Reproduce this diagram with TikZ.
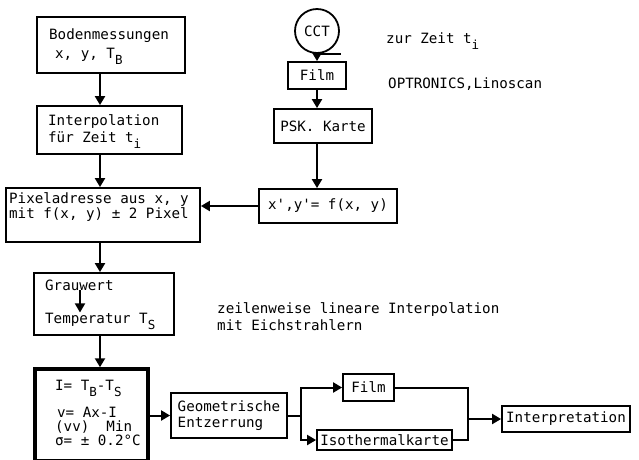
\documentclass[tikz,border=0pt]{standalone}
\usepackage{fontspec}
\setmainfont{DejaVu Sans Mono}
\usetikzlibrary{arrows.meta}
\newcommand\mysub[1]{\raisebox{-6pt}{\fontsize{12.5}{12.5}\selectfont #1}}
\begin{document}
\begin{tikzpicture}[x=1pt,y=-1pt,
  every node/.style={font=\fontsize{14.2}{16}\selectfont},
  bx/.style={draw,line width=1.8pt,inner sep=0pt,rectangle},
  tx/.style={anchor=base west,inner sep=0pt},
  ln/.style={line width=2pt},
  arr/.style={line width=2pt,-{Triangle[length=9pt,width=10pt]}}]
\useasboundingbox (0,0) rectangle (639,459);
\clip (0,0) rectangle (639,459);

% helper x positions
\coordinate (lx) at (100,0);
\coordinate (sx) at (301,0);
\coordinate (jx) at (468,0);
\coordinate (gx) at (80,0);

% left column
\node[bx,minimum width=148pt,minimum height=56pt] (boden) at (111,45) {};
\node[tx] (bodent1) at (49,39) {Bodenmessungen};
\node[tx] (bodent2) at (55,58) {x, y, T\mysub{B}};

\node[bx,minimum width=145pt,minimum height=48pt] (interp) at (109.5,130) {};
\node[tx] (interpt1) at (48,125) {Interpolation};
\node[tx] (interpt2) at (48,142) {für Zeit t\mysub{i}};

\node[bx,minimum width=194pt,minimum height=54pt] (pix) at (103,215) {};
\node[tx] (pixt1) at (9,203) {Pixeladresse aus x, y};
\node[tx] (pixt2) at (9,218) {mit f(x, y) ± 2 Pixel};

\node[bx,minimum width=140pt,minimum height=62pt] (grau) at (104,304) {};
\node[tx] (grauw) at (45,290) {Grauwert};
\node[tx] (temp) at (45,323) {Temperatur T\mysub{S}};
\draw[arr,line width=1.8pt] (grauw.south -| gx) -- (temp.north -| gx);

\node[draw,line width=3.5pt,inner sep=0pt,minimum width=113pt,minimum height=92pt] (ibox) at (91.5,415) {};
\node[tx] (it1) at (55,390) {I= T\mysub{B}-T\mysub{S}};
\node[tx] (it2) at (57,417) {v= Ax-I};
\node[tx] (it3) at (55,431) {(vv)~~Min};
\node[tx] (it4) at (55,445) {σ= ± 0.2°C};

% right column
\node[draw,circle,line width=1.8pt,minimum size=44pt,inner sep=0pt] (cct) at (317,31) {CCT};
\draw[ln] (cct.south) -- ++(24,0);
\node[bx,minimum width=58pt,minimum height=27pt] (film1) at (317,75.5) {Film};
\node[bx,minimum width=98pt,minimum height=34pt] (psk) at (323,126) {PSK. Karte};
\node[bx,minimum width=138pt,minimum height=34pt] (xy) at (328,206) {x\textquotesingle,y\textquotesingle= f(x, y)};

% free texts
\node[tx] (zur) at (386,43) {zur Zeit t\mysub{i}};
\node[tx] (opt) at (388,88) {OPTRONICS,Linoscan};
\node[tx] (zeil1) at (217,313) {zeilenweise lineare Interpolation};
\node[tx] (zeil2) at (217,330) {mit Eichstrahlern};

% bottom row
\node[bx,minimum width=116pt,minimum height=45pt,align=left] (geo) at (229,415.5) {Geometrische\\Entzerrung};
\node[bx,minimum width=51pt,minimum height=27pt] (film2) at (368.5,387.5) {Film};
\node[bx,minimum width=135pt,minimum height=20pt] (iso) at (384.5,440) {Isothermalkarte};
\node[bx,minimum width=128pt,minimum height=26pt] (interp2) at (566,419) {Interpretation};

% connectors
\draw[arr] (boden.south -| lx) -- (interp.north -| lx);
\draw[arr] (interp.south -| lx) -- (pix.north -| lx);
\draw[arr] (pix.south -| lx) -- (grau.north -| lx);
\draw[arr] (grau.south -| lx) -- (ibox.north -| lx);

\draw[arr] (cct.south) -- (film1.north);
\draw[arr] (film1.south) -- (film1.south |- psk.north);
\draw[arr] (psk.south -| film1) -- (xy.north -| film1);
\draw[arr] (xy.west) -- (xy.west -| pix.east);

\draw[arr] (ibox.east |- geo.west) -- (geo.west);
\draw[ln] (geo.east) -- (geo.east -| sx);
\draw[arr] (geo.east -| sx) |- (film2.west);
\draw[arr] (geo.east -| sx) |- (iso.west);
\draw[ln] (film2.east) -| (iso.east -| jx) -- (iso.east);
\draw[arr] (interp2.west -| jx) -- (interp2.west);
\end{tikzpicture}
\end{document}
